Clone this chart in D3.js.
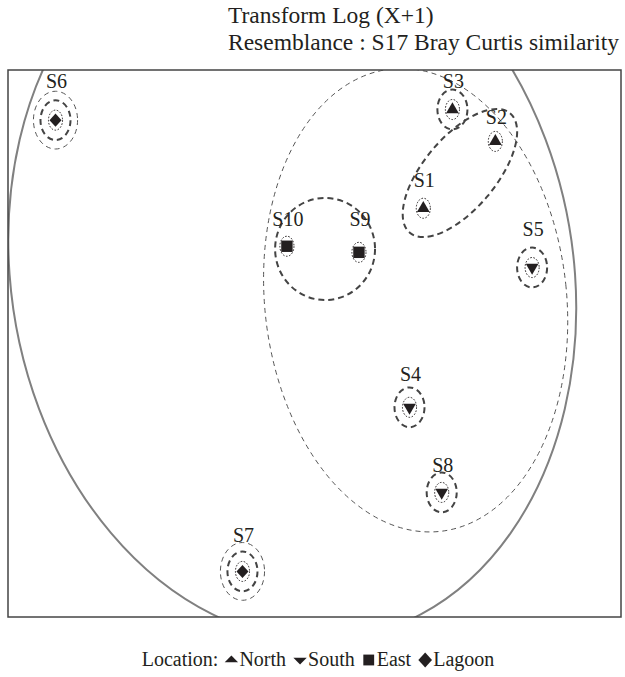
<!DOCTYPE html>
<html>
<head>
<meta charset="utf-8">
<script src="https://cdn.jsdelivr.net/npm/d3@7"></script>
<style>
  body { margin: 0; background: #fff; }
  text { font-family: "Liberation Serif", "Times New Roman", serif; fill: #231f20; }
</style>
</head>
<body>
<svg id="chart" width="625" height="677"></svg>
<script>
// nMDS sample coordinates
const samples   = ["S1", "S2", "S3", "S4", "S5", "S6", "S7", "S8", "S9", "S10"];
const mdsX      = [0.71, 1.18, 0.90, 0.62, 1.42, -1.69, -0.47, 0.83, 0.29, -0.18];
const mdsY      = [0.89, 1.33, 1.54, -0.42, 0.50, 1.47, -1.50, -0.98, 0.60, 0.64];
const locations = ["North", "North", "North", "South", "South", "Lagoon", "Lagoon", "South", "East", "East"];

// similarity contours around single samples
const dotRing   = samples;
const dashRing  = ["S3", "S4", "S5", "S6", "S7", "S8"];
const thinRing  = ["S6", "S7"];

// similarity contours around groups (centre, radii in mds units, tilt, lean)
const groupLevel = ["dash", "dash", "thin", "solid"];
const groupCx    = [0.949, 0.069, 0.660, -0.145];
const groupCy    = [1.122, 0.622, 0.285, 0.457];
const groupRx    = [0.509, 0.326, 0.985, 1.845];
const groupRy    = [0.237, 0.336, 1.530, 2.409];
const groupAngle = [-50, 0, -6, 0];
const groupSkew  = [0, 0, 0, 4.1];

const titleLines = ["Transform Log (X+1)", "Resemblance : S17 Bray Curtis similarity"];
const legendKeys = ["North", "South", "East", "Lagoon"];

const svg = d3.select("#chart");
const box = {left: 8, right: 621, top: 70, bottom: 617};

const x = d3.scaleLinear().domain([-2, 2]).range([box.left, box.right]);
const y = d3.scaleLinear().domain([-1.8, 1.8]).range([box.bottom, box.top]);

// label lift above each marker, px
const labelLift = {S1: 21, S2: 17, S3: 22, S4: 26, S5: 32, S6: 32, S7: 29, S8: 20, S9: 26, S10: 20};

const markerPath = {
  North: d3.symbol().type(d3.symbolTriangle).size(70)(),
  South: d3.symbol().type(d3.symbolTriangle).size(70)(),
  East: d3.symbol().type(d3.symbolSquare).size(130)(),
  Lagoon: d3.symbol().type(d3.symbolSquare).size(85)()
};
const markerTf = {North: "", South: " rotate(180)", East: "", Lagoon: " scale(0.92,1) rotate(45)"};

const styles = {
  dot:   {stroke: "#231f20", width: 1,   dash: "1.6,1.6"},
  dash:  {stroke: "#444",    width: 2,   dash: "6,4"},
  thin:  {stroke: "#555",    width: 1,   dash: "5,4"},
  solid: {stroke: "#808080", width: 2,   dash: null}
};

// titles
svg.selectAll("text.title")
  .data(titleLines)
  .enter()
  .append("text")
  .attr("class", "title")
  .attr("x", 228)
  .attr("y", (d, i) => 23 + i * 27)
  .style("font-size", "23.5px")
  .text(d => d);

svg.append("clipPath").attr("id", "plotclip")
  .append("rect")
  .attr("x", box.left).attr("y", box.top)
  .attr("width", box.right - box.left).attr("height", box.bottom - box.top);

const plot = svg.append("g").attr("clip-path", "url(#plotclip)");

const points = samples.map((s, i) => ({name: s, x: mdsX[i], y: mdsY[i], loc: locations[i]}));
const byName = new Map(points.map(p => [p.name, p]));

const ringSize = {
  dot:  [0.046, 0.066],
  dash: [0.098, 0.131],
  thin: [0.144, 0.19]
};

const ellipses = [];
groupLevel.forEach((lvl, i) => ellipses.push({
  level: lvl, cx: groupCx[i], cy: groupCy[i], rx: groupRx[i], ry: groupRy[i],
  angle: groupAngle[i], skew: groupSkew[i]
}));
[["thin", thinRing], ["dash", dashRing], ["dot", dotRing]].forEach(([lvl, list]) => {
  list.forEach(n => {
    const p = byName.get(n);
    ellipses.push({level: lvl, cx: p.x, cy: p.y, rx: ringSize[lvl][0], ry: ringSize[lvl][1], angle: 0, skew: 0});
  });
});

plot.selectAll("ellipse")
  .data(ellipses)
  .enter()
  .append("ellipse")
  .attr("cx", 0)
  .attr("cy", 0)
  .attr("rx", d => x(d.cx + d.rx) - x(d.cx))
  .attr("ry", d => y(d.cy) - y(d.cy + d.ry))
  .attr("transform", d => `translate(${x(d.cx)},${y(d.cy)}) skewX(${d.skew}) rotate(${d.angle})`)
  .style("fill", "none")
  .style("stroke", d => styles[d.level].stroke)
  .style("stroke-width", d => styles[d.level].width)
  .style("stroke-dasharray", d => styles[d.level].dash)
  .attr("vector-effect", "non-scaling-stroke");

// markers
svg.selectAll("path.pt")
  .data(points)
  .enter()
  .append("path")
  .attr("class", "pt")
  .attr("d", d => markerPath[d.loc])
  .attr("transform", d => `translate(${x(d.x)},${y(d.y)})${markerTf[d.loc]}`)
  .style("fill", "#231f20");

svg.selectAll("text.lbl")
  .data(points)
  .enter()
  .append("text")
  .attr("class", "lbl")
  .attr("x", d => x(d.x) + 1)
  .attr("y", d => y(d.y) - labelLift[d.name])
  .attr("text-anchor", "middle")
  .style("font-size", "20px")
  .text(d => d.name);

svg.append("rect")
  .attr("x", box.left).attr("y", box.top)
  .attr("width", box.right - box.left).attr("height", box.bottom - box.top)
  .style("fill", "none")
  .style("stroke", "#444")
  .style("stroke-width", 1.5);

// legend
const legend = svg.append("g");
let cursor = 0;
const lt = legend.append("text").attr("x", 0).attr("y", 0).style("font-size", "20px").text("Location:");
cursor += lt.node().getComputedTextLength() + 13;
const legendTf = {
  North: " scale(1.05,0.6)",
  South: " rotate(180) scale(1.05,0.6)",
  East: " scale(0.95)",
  Lagoon: " scale(1.05,1.15) rotate(45)"
};
legendKeys.forEach(k => {
  legend.append("path")
    .attr("d", markerPath[k])
    .attr("transform", `translate(${cursor},-6)${legendTf[k]}`)
    .style("fill", "#231f20");
  cursor += 8;
  const t = legend.append("text").attr("x", cursor).attr("y", 0).style("font-size", "20px").text(k);
  cursor += t.node().getComputedTextLength() + 14;
});
const legendWidth = cursor - 14;
legend.attr("transform", `translate(${318 - legendWidth / 2},666)`);
</script>
</body>
</html>
